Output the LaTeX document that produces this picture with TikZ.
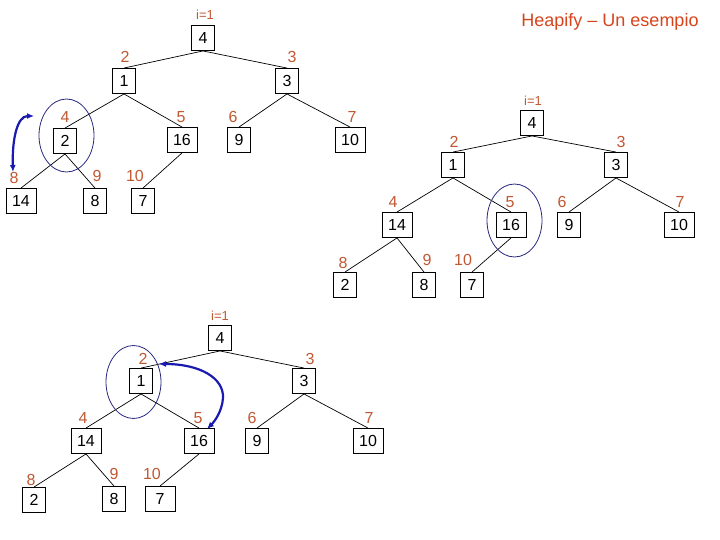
\documentclass[tikz,border=0pt]{standalone}
\usepackage{fontspec}
\setmainfont{Liberation Sans}
\usetikzlibrary{arrows.meta,shapes.geometric}
\definecolor{lblc}{RGB}{192,88,50}
\definecolor{titlec}{RGB}{214,68,28}
\definecolor{ringc}{RGB}{40,40,128}
\definecolor{arrc}{RGB}{26,26,176}
\begin{document}
\begin{tikzpicture}[x=1pt,y=-1pt,
  box/.style={draw, line width=0.9pt, minimum width=23pt, minimum height=25pt, inner sep=1pt, font=\fontsize{16}{16}\selectfont},
  wbox/.style={box, minimum width=30pt},
  lbl/.style={text=lblc, inner sep=0pt, font=\fontsize{16}{16}\selectfont},
  ilbl/.style={lbl, font=\fontsize{13}{13}\selectfont},
  edge/.style={line width=0.7pt},
  ring/.style={draw=ringc, line width=0.8pt, ellipse, minimum width=55pt, minimum height=73pt, inner sep=0pt},
  swap/.style={draw=arrc, line width=2.2pt, {Latex[length=7pt,width=6pt]}-{Latex[length=7pt,width=6pt]}}]
\useasboundingbox (0,0) rectangle (720,540);

\node[text=titlec, font=\fontsize{18}{18}\selectfont, inner sep=0pt] (title) at (610,22) {Heapify -- Un esempio};

% ---------- Tree 1 ----------
\node[ilbl] (a0) at (205,15) {i=1};
\node[box]  (a1) at (203,38) {4};
\node[lbl]  (a2l) at (125,57) {2};
\node[box]  (a2) at (124,81) {1};
\node[lbl]  (a3l) at (292,57) {3};
\node[box]  (a3) at (287,81) {3};
\node[lbl]  (a4l) at (65,117) {4};
\node[box]  (a4) at (65,141) {2};
\node[lbl]  (a5l) at (181,117) {5};
\node[wbox] (a5) at (182,140) {16};
\node[lbl]  (a6l) at (233,117) {6};
\node[box]  (a6) at (239,140) {9};
\node[lbl]  (a7l) at (352,117) {7};
\node[wbox] (a7) at (350,140) {10};
\node[lbl]  (a8l) at (14,178) {8};
\node[wbox] (a8) at (21,201) {14};
\node[lbl]  (a9l) at (97,176) {9};
\node[box]  (a9) at (95,201) {8};
\node[lbl]  (a10l) at (135,176) {10};
\node[box]  (a10) at (143,201) {7};
\draw[edge] (a1.south) -- (a2.north);
\draw[edge] (a1.south) -- (a3.north);
\draw[edge] (a2.south) -- (a4.north);
\draw[edge] (a2.south) -- (a5.north);
\draw[edge] (a3.south) -- (a6.north);
\draw[edge] (a3.south) -- (a7.north);
\draw[edge] (a4.south) -- (a8.north);
\draw[edge] (a4.south) -- (a9.north);
\draw[edge] (a5.south) -- (a10.north);
\node[ring] (e1) at (66.5,135.5) {};
\coordinate (s1a) at (13,172);
\coordinate (s1b) at (34,116);
\draw[swap] (s1a) .. controls (12,140) and (17,116) .. (s1b);

% ---------- Tree 2 ----------
\node[ilbl] (b0) at (533,101) {i=1};
\node[box]  (b1) at (532,123) {4};
\node[lbl]  (b2l) at (454,142) {2};
\node[box]  (b2) at (453,165) {1};
\node[lbl]  (b3l) at (621,142) {3};
\node[box]  (b3) at (616,165) {3};
\node[lbl]  (b4l) at (393,202) {4};
\node[wbox] (b4) at (397,225) {14};
\node[lbl]  (b5l) at (510,202) {5};
\node[wbox] (b5) at (511,225) {16};
\node[lbl]  (b6l) at (562,202) {6};
\node[box]  (b6) at (569,225) {9};
\node[lbl]  (b7l) at (680,202) {7};
\node[wbox] (b7) at (679,225) {10};
\node[lbl]  (b8l) at (343,263) {8};
\node[box]  (b8) at (345,285) {2};
\node[lbl]  (b9l) at (427,260) {9};
\node[box]  (b9) at (424,285) {8};
\node[lbl]  (b10l) at (463,260) {10};
\node[box]  (b10) at (472,285) {7};
\draw[edge] (b1.south) -- (b2.north);
\draw[edge] (b1.south) -- (b3.north);
\draw[edge] (b2.south) -- (b4.north);
\draw[edge] (b2.south) -- (b5.north);
\draw[edge] (b3.south) -- (b6.north);
\draw[edge] (b3.south) -- (b7.north);
\draw[edge] (b4.south) -- (b8.north);
\draw[edge] (b4.south) -- (b9.north);
\draw[edge] (b5.south) -- (b10.north);
\node[ring] (e2) at (514.5,220.5) {};

% ---------- Tree 3 ----------
\node[ilbl] (c0) at (220,316) {i=1};
\node[box]  (c1) at (220,338) {4};
\node[lbl]  (c2l) at (143,359) {2};
\node[box]  (c2) at (141,381) {1};
\node[lbl]  (c3l) at (310,359) {3};
\node[box]  (c3) at (304,381) {3};
\node[lbl]  (c4l) at (83,418) {4};
\node[wbox] (c4) at (86,441) {14};
\node[lbl]  (c5l) at (198,418) {5};
\node[wbox] (c5) at (199,441) {16};
\node[lbl]  (c6l) at (252,418) {6};
\node[box]  (c6) at (257,441) {9};
\node[lbl]  (c7l) at (369,418) {7};
\node[wbox] (c7) at (368,441) {10};
\node[lbl]  (c8l) at (31,480) {8};
\node[box]  (c8) at (34,500) {2};
\node[lbl]  (c9l) at (114,474) {9};
\node[box]  (c9) at (114,499) {8};
\node[lbl]  (c10l) at (152,474) {10};
\node[wbox] (c10) at (160,499) {7};
\draw[edge] (c1.south) -- (c2.north);
\draw[edge] (c1.south) -- (c3.north);
\draw[edge] (c2.south) -- (c4.north);
\draw[edge] (c2.south) -- (c5.north);
\draw[edge] (c3.south) -- (c6.north);
\draw[edge] (c3.south) -- (c7.north);
\draw[edge] (c4.south) -- (c8.north);
\draw[edge] (c4.south) -- (c9.north);
\draw[edge] (c5.south) -- (c10.north);
\node[ring] (e3) at (133.5,382) {};
\coordinate (s3a) at (159,364);
\coordinate (s3b) at (207,429);
\draw[swap] (s3a) .. controls (200,364) and (224,378) .. (223,398) .. controls (222,412) and (214,422) .. (s3b);
\end{tikzpicture}
\end{document}
